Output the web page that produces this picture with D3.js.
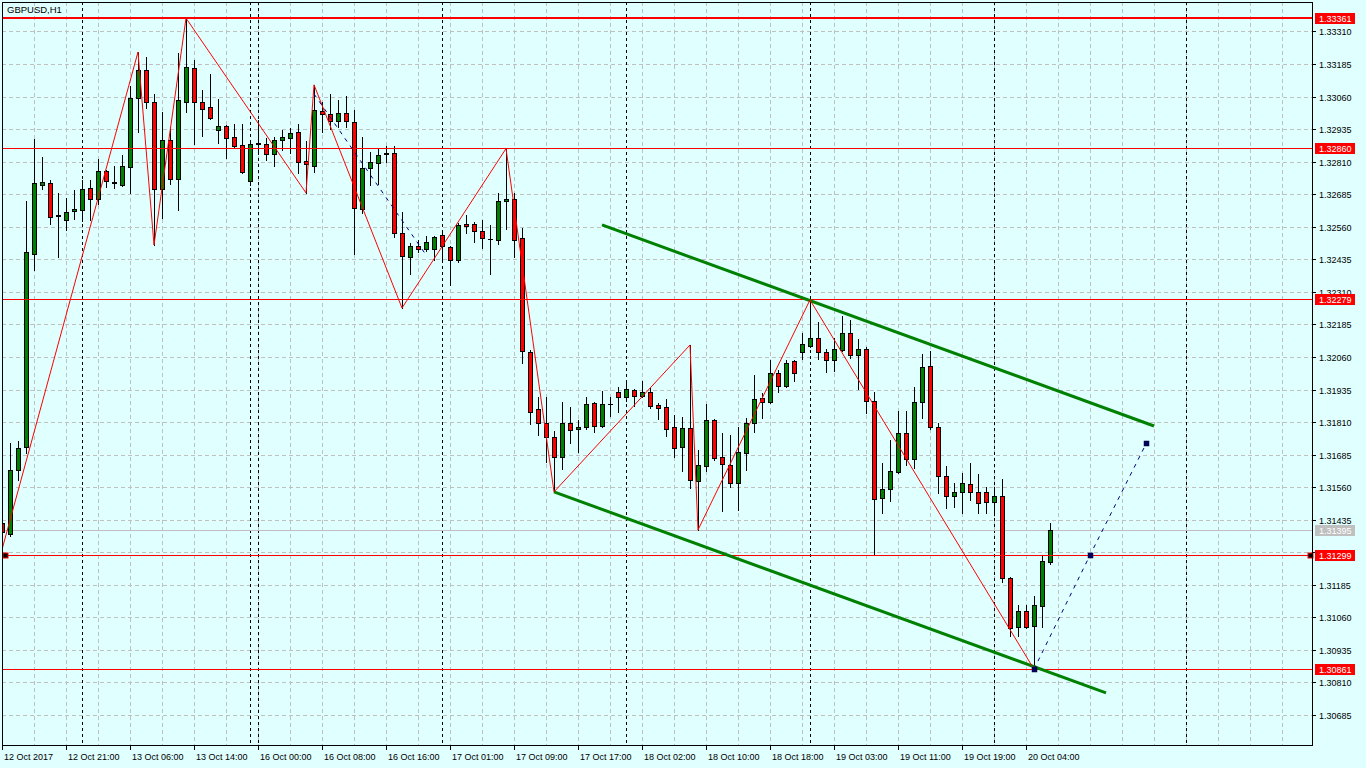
<!DOCTYPE html>
<html><head><meta charset="utf-8">
<script src="https://cdn.jsdelivr.net/npm/d3@7"></script>
<style>
html,body{margin:0;padding:0;background:#E0FFFF;overflow:hidden;}
svg{display:block;}
text{font-family:"Liberation Sans",Arial,sans-serif;}
</style></head><body>
<svg id="chart" width="1366" height="768"></svg>
<script>
const symbolTitle = "GBPUSD,H1";
const opens = [1.31423,1.31380,1.31626,1.31714,1.32456,1.32721,1.32728,1.32605,1.32586,1.32621,1.32625,1.32709,1.32667,1.32774,1.32728,1.32721,1.32790,1.33055,1.33162,1.33039,1.32705,1.32893,1.32744,1.33039,1.33170,1.33039,1.33020,1.32932,1.32947,1.32905,1.32874,1.32736,1.32878,1.32878,1.32840,1.32893,1.32901,1.32924,1.32813,1.32794,1.33005,1.32993,1.32966,1.32997,1.32963,1.32628,1.32786,1.32805,1.32840,1.32844,1.32536,1.32444,1.32486,1.32475,1.32475,1.32529,1.32483,1.32433,1.32571,1.32571,1.32544,1.32513,1.32509,1.32659,1.32667,1.32517,1.32079,1.31860,1.31807,1.31753,1.31676,1.31807,1.31784,1.31791,1.31884,1.31795,1.31880,1.31926,1.31907,1.31933,1.31910,1.31926,1.31876,1.31868,1.31791,1.31714,1.31788,1.31584,1.31642,1.31818,1.31676,1.31645,1.31576,1.31691,1.31807,1.31903,1.31887,1.31999,1.31949,1.32045,1.32079,1.32102,1.32133,1.32079,1.32049,1.32087,1.32152,1.32068,1.32091,1.31891,1.31519,1.31553,1.31619,1.31768,1.31668,1.31887,1.32026,1.31791,1.31603,1.31526,1.31542,1.31572,1.31542,1.31542,1.31503,1.31526,1.31211,1.31023,1.31085,1.31027,1.31104,1.31273];
const highs = [1.31434,1.31730,1.31738,1.32659,1.32897,1.32828,1.32740,1.32690,1.32671,1.32701,1.32740,1.32740,1.32820,1.32778,1.32794,1.32836,1.33101,1.33231,1.33212,1.33070,1.33001,1.32943,1.33227,1.33361,1.33201,1.33085,1.33147,1.33051,1.32951,1.32955,1.32955,1.32882,1.32970,1.32901,1.32905,1.32932,1.32940,1.32955,1.32890,1.33105,1.33039,1.33070,1.33047,1.33062,1.33009,1.32905,1.32847,1.32863,1.32870,1.32870,1.32617,1.32498,1.32509,1.32525,1.32525,1.32548,1.32486,1.32575,1.32605,1.32579,1.32586,1.32567,1.32690,1.32860,1.32690,1.32556,1.32087,1.31907,1.31907,1.31776,1.31887,1.31868,1.31818,1.31907,1.31887,1.31930,1.31907,1.31945,1.31972,1.31937,1.31968,1.31941,1.31884,1.31899,1.31837,1.31830,1.32106,1.31703,1.31880,1.31822,1.31768,1.31761,1.31791,1.31826,1.31991,1.31922,1.32049,1.32010,1.32049,1.32049,1.32152,1.32279,1.32194,1.32091,1.32133,1.32218,1.32202,1.32129,1.32098,1.31926,1.31653,1.31741,1.31853,1.31853,1.31945,1.32072,1.32083,1.31807,1.31642,1.31576,1.31615,1.31653,1.31611,1.31561,1.31561,1.31592,1.31215,1.31108,1.31108,1.31142,1.31296,1.31423];
const lows = [1.31377,1.31373,1.31588,1.31691,1.32394,1.32705,1.32571,1.32444,1.32548,1.32590,1.32582,1.32586,1.32648,1.32713,1.32709,1.32717,1.32690,1.32924,1.33016,1.32490,1.32594,1.32724,1.32625,1.33001,1.32878,1.32909,1.32974,1.32882,1.32824,1.32863,1.32767,1.32721,1.32840,1.32817,1.32794,1.32855,1.32844,1.32767,1.32690,1.32771,1.32924,1.32936,1.32943,1.32943,1.32456,1.32613,1.32721,1.32724,1.32809,1.32521,1.32248,1.32379,1.32463,1.32467,1.32433,1.32433,1.32337,1.32425,1.32536,1.32502,1.32479,1.32379,1.32494,1.32552,1.32444,1.32037,1.31803,1.31761,1.31657,1.31542,1.31630,1.31730,1.31695,1.31784,1.31772,1.31791,1.31834,1.31849,1.31891,1.31872,1.31907,1.31864,1.31822,1.31757,1.31676,1.31622,1.31557,1.31396,1.31622,1.31665,1.31469,1.31561,1.31473,1.31626,1.31772,1.31826,1.31884,1.31926,1.31945,1.31968,1.32052,1.32098,1.32052,1.32003,1.32006,1.32083,1.32056,1.31937,1.31845,1.31299,1.31461,1.31507,1.31615,1.31645,1.31634,1.31826,1.31784,1.31538,1.31480,1.31484,1.31461,1.31511,1.31461,1.31461,1.31453,1.31196,1.30989,1.30989,1.31019,1.30861,1.31023,1.31265];
const closes = [1.31388,1.31626,1.31711,1.32463,1.32728,1.32732,1.32598,1.32602,1.32617,1.32628,1.32705,1.32667,1.32774,1.32736,1.32732,1.32794,1.33055,1.33162,1.33039,1.32705,1.32893,1.32744,1.33047,1.33174,1.33039,1.33012,1.32978,1.32947,1.32901,1.32870,1.32771,1.32878,1.32882,1.32840,1.32893,1.32905,1.32920,1.32809,1.32801,1.33009,1.32993,1.32966,1.32997,1.32966,1.32632,1.32786,1.32809,1.32836,1.32844,1.32536,1.32448,1.32486,1.32475,1.32502,1.32521,1.32486,1.32433,1.32567,1.32563,1.32544,1.32517,1.32512,1.32659,1.32667,1.32509,1.32083,1.31849,1.31807,1.31753,1.31676,1.31807,1.31780,1.31791,1.31880,1.31795,1.31880,1.31881,1.31907,1.31937,1.31910,1.31926,1.31872,1.31864,1.31784,1.31711,1.31788,1.31588,1.31645,1.31818,1.31672,1.31649,1.31576,1.31695,1.31807,1.31899,1.31887,1.31999,1.31949,1.32037,1.31999,1.32110,1.32133,1.32079,1.32049,1.32091,1.32152,1.32068,1.32091,1.31891,1.31515,1.31553,1.31622,1.31768,1.31668,1.31887,1.32022,1.31791,1.31603,1.31526,1.31542,1.31576,1.31542,1.31500,1.31503,1.31526,1.31211,1.31019,1.31085,1.31023,1.31108,1.31277,1.31395];

const timeLabels = ["12 Oct 2017","12 Oct 21:00","13 Oct 06:00","13 Oct 14:00","16 Oct 00:00","16 Oct 08:00","16 Oct 16:00","17 Oct 01:00","17 Oct 09:00","17 Oct 17:00","18 Oct 02:00","18 Oct 10:00","18 Oct 18:00","19 Oct 03:00","19 Oct 11:00","19 Oct 19:00","20 Oct 04:00"];
const timeLabelBars = [0,8,16,24,32,40,48,56,64,72,80,88,96,104,112,120,128];
const priceTicks = [1.30685,1.30810,1.30935,1.31060,1.31185,1.31310,1.31435,1.31560,1.31685,1.31810,1.31935,1.32060,1.32185,1.32310,1.32435,1.32560,1.32685,1.32810,1.32935,1.33060,1.33185,1.33310];
const separatorBars = [10,31,32,55,78,101,124,148];

const zigzagBars = [-1,17,19,23,38,39,50,63,69,86,87,101,129];
const zigzagPrices = [1.31208,1.33231,1.32490,1.33361,1.32690,1.33105,1.32248,1.32860,1.31542,1.32106,1.31396,1.32279,1.30861];

const levelPrices = [1.33361,1.32860,1.32279,1.31299,1.30861];
const levelWidths = [2,1,1,1,1];
const bidPrice = 1.31395;

const channelUpperBars = [75,144];
const channelUpperPrices = [1.32567,1.31795];
const channelLowerBars = [69,138];
const channelLowerPrices = [1.31542,1.30770];

const projectionABars = [39,53];
const projectionAPrices = [1.33070,1.32452];
const projectionBBars = [129,136,143];
const projectionBPrices = [1.30861,1.31299,1.31726];

// ---- layout ----
const L = 2, R = 1312, T = 2, B = 745;
const svg = d3.select("#chart");
const x = d3.scaleLinear().domain([0, (R - L) / 8]).range([L, R]);
const y = d3.scaleLinear().domain([1.30570, 1.33423]).range([B, T]);
const px = v => Math.round(x(v));
const py = v => Math.round(y(v));
const pyl = v => Math.floor(y(v));

svg.append("rect").attr("x",0).attr("y",0).attr("width",1366).attr("height",768).attr("fill","#E0FFFF");
svg.append("defs").append("clipPath").attr("id","plot")
  .append("rect").attr("x",L).attr("y",T).attr("width",R-L).attr("height",B-T);

const plot = svg.append("g").attr("clip-path","url(#plot)");

// grid
const gridBars = d3.range(4, (R - L) / 8, 4);
plot.append("g").selectAll("line").data(gridBars).join("line")
  .attr("x1",d=>px(d)+0.5).attr("x2",d=>px(d)+0.5).attr("y1",T).attr("y2",B)
  .attr("stroke","#C0C0C0").attr("stroke-dasharray","4,3");
plot.append("g").selectAll("line").data(priceTicks).join("line")
  .attr("x1",L).attr("x2",R).attr("y1",d=>py(d)+0.5).attr("y2",d=>py(d)+0.5)
  .attr("stroke","#C0C0C0").attr("stroke-dasharray","4,3");

// period separators
plot.append("g").selectAll("line").data(separatorBars).join("line")
  .attr("x1",d=>px(d)+0.5).attr("x2",d=>px(d)+0.5).attr("y1",T).attr("y2",B)
  .attr("stroke","#000").attr("stroke-dasharray","3,3");

// bid line
plot.append("line").attr("x1",L).attr("x2",R).attr("y1",pyl(bidPrice)+0.5).attr("y2",pyl(bidPrice)+0.5)
  .attr("stroke","#C0C0C0");

// candles
const bars = opens.map((o,i)=>({i,o,h:highs[i],l:lows[i],c:closes[i]}));
const cg = plot.append("g");
bars.forEach(b=>{
  const cx = px(b.i);
  cg.append("line").attr("x1",cx+0.5).attr("x2",cx+0.5)
    .attr("y1",py(b.h)).attr("y2",py(b.l)+1).attr("stroke","#000");
  const top = py(Math.max(b.o,b.c)), bot = py(Math.min(b.o,b.c));
  if (b.o === b.c || bot - top < 1) {
    cg.append("line").attr("x1",cx-2).attr("x2",cx+3).attr("y1",top+0.5).attr("y2",top+0.5).attr("stroke","#000");
  } else {
    cg.append("rect").attr("x",cx-1.5).attr("y",top+0.5).attr("width",4).attr("height",bot-top)
      .attr("fill", b.c > b.o ? "#008000" : "#FF0000").attr("stroke","#000");
  }
});

// horizontal levels
plot.append("g").selectAll("line").data(levelPrices).join("line")
  .attr("x1",L).attr("x2",R)
  .attr("y1",(d,i)=>levelWidths[i]===1?pyl(d)+0.5:py(d)).attr("y2",(d,i)=>levelWidths[i]===1?pyl(d)+0.5:py(d))
  .attr("stroke","#FF0000").attr("stroke-width",(d,i)=>levelWidths[i]);

// channel
const lineGen = d3.line().x(d=>x(d[0])).y(d=>y(d[1]));
plot.append("path").attr("d",lineGen(channelUpperBars.map((b,i)=>[b,channelUpperPrices[i]])))
  .attr("fill","none").attr("stroke","#008000").attr("stroke-width",3);
plot.append("path").attr("d",lineGen(channelLowerBars.map((b,i)=>[b,channelLowerPrices[i]])))
  .attr("fill","none").attr("stroke","#008000").attr("stroke-width",3);

// zigzag
plot.append("path").attr("d",lineGen(zigzagBars.map((b,i)=>[b,zigzagPrices[i]])))
  .attr("fill","none").attr("stroke","#FF0000").attr("stroke-width",1);

// projections
plot.append("path").attr("d",lineGen(projectionABars.map((b,i)=>[b,projectionAPrices[i]])))
  .attr("fill","none").attr("stroke","#000080").attr("stroke-width",1).attr("stroke-dasharray","4,5");
plot.append("path").attr("d",lineGen(projectionBBars.map((b,i)=>[b,projectionBPrices[i]])))
  .attr("fill","none").attr("stroke","#000080").attr("stroke-width",1).attr("stroke-dasharray","4,5");
plot.append("g").selectAll("rect").data(projectionBBars).join("rect")
  .attr("x",d=>px(d)-2).attr("y",(d,i)=>pyl(projectionBPrices[i])-2).attr("width",5).attr("height",5)
  .attr("fill","#000060").attr("stroke","#000040").attr("stroke-width",0.5);

// level markers on 1.31299
const markY = pyl(levelPrices[3]);
[L+3, R-2].forEach(mx=>{
  svg.append("rect").attr("x",mx-2).attr("y",markY-2).attr("width",5).attr("height",5)
    .attr("fill","#000").attr("stroke","#FF0000").attr("stroke-width",1);
});

// frame
svg.append("rect").attr("x",L+0.5).attr("y",T+0.5).attr("width",R-L).attr("height",B-T)
  .attr("fill","none").attr("stroke","#000");

// title
svg.append("text").attr("x",7).attr("y",13).attr("font-size",9.5).attr("fill","#000").text(symbolTitle);

// price axis
const boxPrices = levelPrices.concat([bidPrice]);
const ya = svg.append("g");
priceTicks.forEach(p=>{
  const yy = py(p);
  ya.append("line").attr("x1",R).attr("x2",R+4).attr("y1",yy+0.5).attr("y2",yy+0.5).attr("stroke","#000");
  const covered = boxPrices.some(bp=>Math.abs(pyl(bp)-yy) < 5);
  if (!covered) ya.append("text").attr("x",R+7).attr("y",yy+3.5).attr("font-size",9).attr("fill","#000").text(p.toFixed(5));
});
boxPrices.forEach((p,i)=>{
  const yy = pyl(p);
  const isBid = i === boxPrices.length - 1;
  ya.append("rect").attr("x",R+3).attr("y",yy-5).attr("width",40).attr("height",11)
    .attr("fill", isBid ? "#C0C0C0" : "#FF0000");
  ya.append("text").attr("x",R+7).attr("y",yy+4).attr("font-size",9).attr("fill","#fff").text(p.toFixed(5));
});

// time axis
const xa = svg.append("g");
timeLabelBars.forEach((b,i)=>{
  const xx = px(b);
  xa.append("line").attr("x1",xx+0.5).attr("x2",xx+0.5).attr("y1",B).attr("y2",B+5).attr("stroke","#000");
  xa.append("text").attr("x",xx+2).attr("y",760).attr("font-size",9).attr("fill","#000").text(timeLabels[i]);
});
</script>
</body></html>
